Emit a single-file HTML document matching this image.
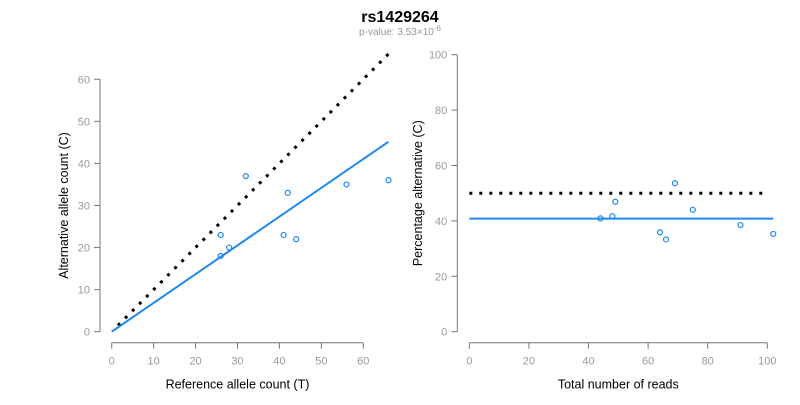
<!DOCTYPE html>
<html><head><meta charset="utf-8"><style>
body{margin:0;background:#fff}
svg{font-family:"Liberation Sans",Arial,sans-serif}
</style></head><body>
<svg id="c" width="800" height="400">
<text x="400" y="22" text-anchor="middle" font-size="16" font-weight="bold">rs1429264</text>
<text x="400" y="35" text-anchor="middle" font-size="10" fill="#999">p-value: 3.53×10<tspan dy="-4" font-size="8">-6</tspan></text>
<g id="left"></g>
<g id="right"></g>
</svg>
<script>
const refCounts=[26,26,28,32,41,42,44,56,66];
const altCounts=[23,18,20,37,23,33,22,35,36];
const fitSlope=0.684;
const leftXTicks=[0,10,20,30,40,50,60];
const leftYTicks=[0,10,20,30,40,50,60];
const totalReads=[49,44,48,69,64,75,66,91,102];
const pctAlt=[46.9,40.9,41.7,53.6,35.9,44,33.3,38.5,35.3];
const fitPct=40.8;
const nullPct=50;
const rightXTicks=[0,20,40,60,80,100];
const rightYTicks=[0,20,40,60,80,100];
const NS="http://www.w3.org/2000/svg";
function mk(p,t,a){const e=document.createElementNS(NS,t);for(const k in a)e.setAttribute(k,a[k]);p.appendChild(e);return e;}
function axes(g,xs,ys,xt,yt,yAxisX,xAxisY,xl,yl,yTitleX,pre){
  const xa=mk(g,'g',{});
  
  
  mk(xa,'line',{x1:xs(xt[0]),x2:xs(xt[xt.length-1]),y1:xAxisY,y2:xAxisY,stroke:'#777'});
  xt.forEach(v=>{mk(xa,'line',{x1:xs(v),x2:xs(v),y1:xAxisY,y2:xAxisY+6,stroke:'#777'});
    const t=mk(xa,'text',{x:xs(v),y:xAxisY+22,'text-anchor':'middle','font-size':11,fill:'#999'});t.textContent=v;
    
    });
  const ya=mk(g,'g',{});
  
  
  mk(ya,'line',{x1:yAxisX,x2:yAxisX,y1:ys(yt[0]),y2:ys(yt[yt.length-1]),stroke:'#777'});
  yt.forEach(v=>{mk(ya,'line',{x1:yAxisX-6,x2:yAxisX,y1:ys(v),y2:ys(v),stroke:'#777'});
    const t=mk(ya,'text',{x:yAxisX-10,y:ys(v)+4,'text-anchor':'end','font-size':11,fill:'#999'});t.textContent=v;
    
    });
  const xtl=mk(g,'text',{x:(xs(xt[0])+xs(xt[xt.length-1]))/2,y:xAxisY+46,'text-anchor':'middle','font-size':12.5});xtl.textContent=xl;
  
  
  const cy=(ys(yt[0])+ys(yt[yt.length-1]))/2;
  const ytl=mk(g,'text',{x:yTitleX,y:cy,'text-anchor':'middle','font-size':12.5,transform:`rotate(-90 ${yTitleX} ${cy})`});ytl.textContent=yl;
  
  
}
// left
const L=document.getElementById('left');
const lx=v=>111.7+v*4.193, ly=v=>331.7-v*4.207;
axes(L,lx,ly,leftXTicks,leftYTicks,100,342.7,'Reference allele count (T)','Alternative allele count (C)',68,'left');
const maxRef=Math.max(...refCounts);
const dl=mk(L,'line',{x1:lx(1.5),y1:ly(1.5),x2:lx(maxRef),y2:ly(maxRef),stroke:'#000','stroke-width':3,'stroke-dasharray':'3 7'});


const fl=mk(L,'line',{x1:lx(0),y1:ly(0),x2:lx(maxRef),y2:ly(maxRef*fitSlope),stroke:'#1e88f0','stroke-width':2});


refCounts.forEach((r,i)=>{const c=mk(L,'circle',{cx:lx(r),cy:ly(altCounts[i]),r:2.5,fill:'none',stroke:'#1e88f0','stroke-width':1.2});
  
  });
// right
const R=document.getElementById('right');
const rx=v=>469.3+v*2.98, ry=v=>331.7-v*2.77;
axes(R,rx,ry,rightXTicks,rightYTicks,457.3,342.7,'Total number of reads','Percentage alternative (C)',422,'right');
const maxTot=Math.max(...totalReads);
const dr=mk(R,'line',{x1:rx(0),y1:ry(nullPct),x2:rx(100),y2:ry(nullPct),stroke:'#000','stroke-width':3,'stroke-dasharray':'3 7'});


const fr=mk(R,'line',{x1:rx(0),y1:ry(fitPct),x2:rx(maxTot),y2:ry(fitPct),stroke:'#1e88f0','stroke-width':2});


totalReads.forEach((t,i)=>{const c=mk(R,'circle',{cx:rx(t),cy:ry(pctAlt[i]),r:2.5,fill:'none',stroke:'#1e88f0','stroke-width':1.2});
  
  });
</script>
</body></html>
